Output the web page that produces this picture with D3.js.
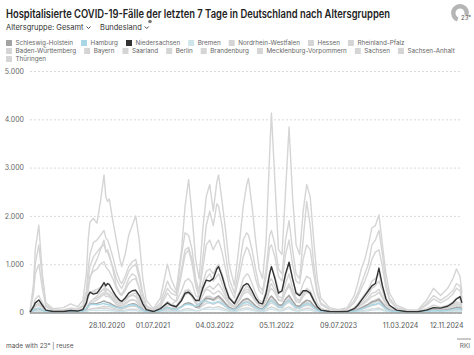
<!DOCTYPE html>
<html><head><meta charset="utf-8">
<script src="https://cdn.jsdelivr.net/npm/d3@7"></script>
<style>
html,body{margin:0;padding:0;background:#fff;}
svg{display:block;font-family:Inter,"Noto Sans",sans-serif;}
</style></head><body><svg id="c" width="474" height="355"></svg>
<script>
const title = "Hospitalisierte COVID-19-Fälle der letzten 7 Tage in Deutschland nach Altersgruppen";
const dates = ["2020-03-02","2020-03-16","2020-03-23","2020-04-06","2020-04-20","2020-05-04","2020-06-01","2020-07-13","2020-08-10","2020-09-07",
"2020-09-28","2020-10-12","2020-10-19","2020-10-26","2020-11-09","2020-11-23","2020-12-07","2020-12-21","2020-12-28","2021-01-04",
"2021-01-11","2021-01-25","2021-02-08","2021-02-22","2021-03-01","2021-03-15","2021-03-29","2021-04-12","2021-04-26","2021-05-10",
"2021-05-24","2021-06-07","2021-07-05","2021-08-02","2021-08-30","2021-09-13","2021-10-04","2021-10-25","2021-11-08","2021-11-22",
"2021-12-06","2021-12-20","2022-01-03","2022-01-17","2022-01-31","2022-02-14","2022-02-28","2022-03-14","2022-03-21","2022-04-04",
"2022-04-18","2022-05-02","2022-05-23","2022-06-13","2022-06-27","2022-07-11","2022-07-18","2022-08-01","2022-08-15","2022-08-29",
"2022-09-12","2022-09-26","2022-10-10","2022-10-17","2022-10-31","2022-11-14","2022-11-28","2022-12-12","2022-12-26","2023-01-09",
"2023-01-23","2023-02-06","2023-02-20","2023-03-06","2023-03-20","2023-04-03","2023-04-17","2023-05-01","2023-06-05","2023-07-10",
"2023-08-14","2023-09-11","2023-09-25","2023-10-09","2023-10-23","2023-11-06","2023-11-20","2023-12-04","2023-12-18","2024-01-01",
"2024-01-15","2024-01-29","2024-02-26","2024-04-08","2024-05-20","2024-06-24","2024-07-22","2024-08-19","2024-09-16","2024-10-07",
"2024-10-21","2024-11-04","2024-11-12"];

const states = ["Schleswig-Holstein","Hamburg","Niedersachsen","Bremen","Nordrhein-Westfalen","Hessen","Rheinland-Pfalz","Baden-Württemberg","Bayern","Saarland","Berlin","Brandenburg","Mecklenburg-Vorpommern","Sachsen","Sachsen-Anhalt","Thüringen"];

const schleswigHolstein = [2,40,70,90,50,15,6,8,15,12,25,70,130,170,180,190,210,240,220,210,200,160,120,100,95,120,160,180,170,120,60,20,8,40,110,80,60,120,180,200,170,110,120,230,300,290,260,320,340,270,180,110,60,180,260,290,280,210,140,90,80,160,300,340,260,160,150,280,350,240,140,130,200,250,230,140,70,30,10,7,10,35,60,95,130,170,220,240,270,190,100,50,18,7,6,30,55,45,60,85,110,105,60];
const hamburg = [2,40,70,90,50,15,6,8,15,12,30,80,130,160,170,160,170,190,170,170,160,130,100,90,90,120,150,160,150,100,50,18,8,40,100,80,60,110,160,170,150,130,180,240,230,210,190,220,230,190,130,80,50,130,190,210,200,150,100,70,60,120,220,240,190,120,110,200,250,170,100,95,150,180,170,100,50,22,8,5,8,25,45,70,95,125,160,170,200,140,75,38,14,5,5,22,40,32,45,60,80,78,45];
const niedersachsen = [5,120,200,260,150,50,20,20,40,30,60,200,350,420,380,400,500,620,550,600,580,450,330,250,230,300,400,450,460,350,180,60,20,80,200,150,120,250,400,420,350,250,250,500,670,650,700,900,950,750,500,300,180,400,550,600,580,450,300,200,180,400,800,950,700,400,450,800,1040,700,400,350,450,450,400,250,120,50,20,15,20,80,150,250,350,450,550,600,920,550,280,150,50,15,15,50,100,90,130,200,280,330,200];
const bremen = [0,10,18,22,12,4,2,2,4,3,8,20,35,45,45,42,45,50,45,45,42,35,26,22,22,30,38,40,38,26,13,5,2,10,28,22,16,30,42,45,40,35,45,65,70,65,60,70,72,58,40,24,14,38,55,62,60,45,30,20,18,35,65,72,56,35,33,60,75,52,30,28,45,55,50,30,15,7,2,2,2,8,14,21,28,37,48,52,60,42,22,11,4,2,1,7,12,10,13,18,24,23,13];
const nordrheinWestfalen = [20,600,1300,1810,800,200,80,100,180,120,250,800,1500,1870,1950,1850,2300,2850,2400,2300,2350,1900,1500,1100,950,1200,1600,1800,2000,1500,700,250,80,300,1000,700,450,1300,2200,2750,2000,1100,700,1700,2400,2650,2100,2700,2850,2300,1700,1000,550,1500,2200,2650,2780,2200,1500,900,700,1500,3300,4130,2700,1300,1200,2500,3840,2400,1400,1200,2100,2650,2400,1500,700,300,100,60,100,350,600,900,1100,1400,1750,1800,2020,1400,800,400,150,60,50,250,500,350,500,700,900,750,400];
const hessen = [5,150,280,350,200,60,25,30,50,40,80,280,550,750,850,900,1000,1050,950,900,850,700,500,380,350,450,600,680,700,500,250,80,25,120,400,300,220,450,650,700,600,350,300,600,850,900,800,950,1000,800,550,330,200,450,700,800,780,600,400,250,220,450,850,950,750,450,420,750,1000,700,420,380,600,750,700,420,200,90,30,20,30,100,180,280,380,480,650,700,800,550,300,150,50,20,18,80,150,110,150,220,300,280,160];
const rheinlandPfalz = [3,80,150,200,110,35,15,15,30,25,50,150,300,400,450,480,520,550,500,480,450,380,280,220,200,260,340,380,400,280,140,45,15,70,230,170,130,280,400,430,350,200,170,350,500,550,480,560,600,480,330,200,110,280,420,480,470,360,240,150,130,270,520,600,450,270,250,450,600,420,250,230,380,480,430,260,120,55,18,12,18,60,110,170,230,300,400,420,480,330,180,90,30,12,10,50,90,70,95,130,180,170,100];
const badenWuerttemberg = [10,400,800,1000,500,120,40,50,80,70,120,350,700,950,1150,1250,1350,1400,1300,1250,1150,950,700,550,500,650,850,950,1000,700,350,120,40,150,500,400,350,900,1300,1350,1100,600,400,900,1400,1500,1300,1450,1500,1250,900,550,300,800,1150,1350,1300,1050,700,450,380,750,1350,1400,1150,750,650,1200,1500,1000,650,600,1100,1400,1300,800,380,170,60,35,60,200,330,500,650,850,1100,1250,1300,950,500,250,90,35,30,150,280,200,280,380,500,450,250];
const bayern = [15,500,1000,1400,700,150,50,60,90,80,150,450,900,1200,1450,1500,1600,1700,1550,1500,1400,1150,850,650,600,750,950,1050,1100,800,400,150,50,200,650,500,400,1200,1650,1600,1300,700,450,1100,1800,2100,1800,2250,2200,1800,1200,700,400,1000,1500,1650,1600,1300,900,550,450,900,1600,1700,1400,900,800,1500,1900,1300,800,700,1500,2300,1800,1000,450,200,70,40,70,250,400,600,800,1000,1400,1500,1700,1200,600,300,100,40,35,180,350,250,350,450,600,550,300];
const saarland = [1,20,40,50,28,8,3,3,5,4,8,30,55,70,75,80,85,90,85,80,75,65,50,40,38,50,65,70,65,45,22,8,3,12,40,30,25,50,75,80,65,40,35,70,100,110,95,115,120,95,65,40,22,55,85,95,92,70,48,30,26,55,100,115,90,55,50,90,115,80,48,45,70,90,82,50,24,11,4,3,4,12,22,32,44,57,75,80,92,64,34,17,6,2,2,10,18,14,19,26,35,33,19];
const berlin = [3,70,130,170,90,30,15,15,35,30,70,200,330,420,430,420,440,480,420,400,380,300,220,180,180,250,330,360,340,220,100,35,15,70,200,170,130,260,380,400,340,250,300,450,480,450,380,430,450,380,270,170,100,250,380,430,420,330,220,140,120,240,450,500,400,250,230,420,550,380,220,200,330,420,380,230,110,50,18,12,18,55,100,150,200,260,330,360,420,300,160,80,28,12,10,45,80,60,85,120,160,150,90];
const brandenburg = [2,30,55,70,40,12,5,5,10,8,20,70,150,220,270,300,350,420,380,380,350,270,180,140,140,190,250,270,250,170,70,20,6,25,90,90,110,300,420,450,370,220,150,250,330,340,290,330,350,280,190,110,60,150,230,270,260,200,130,85,75,160,300,330,260,160,150,280,360,240,140,130,210,260,240,150,70,30,10,7,10,35,65,100,140,180,230,260,300,210,110,55,20,7,6,30,55,45,60,85,110,105,60];
const mecklenburgVorpommern = [1,15,25,30,18,5,2,3,5,4,8,25,50,70,85,95,110,130,120,125,120,95,70,60,65,90,120,135,125,80,35,10,3,15,50,45,50,130,190,210,180,110,80,140,190,200,170,200,210,170,115,65,35,95,145,165,160,120,80,50,45,95,180,200,160,95,90,165,215,145,85,75,120,150,140,85,40,18,6,4,6,20,40,60,85,110,145,160,185,130,65,32,12,4,4,18,32,27,36,50,68,65,36];
const sachsen = [3,60,120,150,90,25,10,12,20,15,40,200,450,700,950,1100,1300,1500,1250,1300,1200,900,550,400,380,500,700,800,750,500,200,50,10,40,150,150,250,800,1200,1300,1000,550,300,450,700,800,650,750,800,600,400,220,120,300,450,550,520,400,280,170,150,350,650,700,550,330,300,600,800,500,300,250,400,500,450,280,130,60,20,12,20,60,120,200,280,380,500,550,650,450,220,110,40,12,12,50,100,80,110,160,220,210,120];
const sachsenAnhalt = [1,25,45,60,35,10,4,5,8,7,15,50,110,170,220,260,320,380,330,340,320,250,170,130,130,170,230,260,240,160,65,18,5,20,70,70,90,250,370,400,320,180,110,180,260,280,240,280,300,230,160,90,50,130,200,230,220,170,110,70,60,130,250,280,220,130,120,230,300,200,115,105,170,210,190,120,55,25,8,6,8,28,55,85,120,155,200,220,260,180,90,45,16,6,5,25,45,38,50,70,95,90,50];
const thueringen = [1,25,50,65,40,12,5,5,8,7,15,55,130,200,280,340,420,500,450,470,450,350,230,180,180,240,320,360,330,220,90,25,6,20,70,70,100,300,450,480,380,210,120,190,270,290,250,290,310,240,160,90,50,120,190,220,210,160,105,65,55,120,230,260,200,120,110,210,280,190,110,100,160,200,180,115,50,22,8,5,7,25,50,80,110,145,190,210,240,170,85,42,15,5,5,22,42,35,47,65,88,84,46];

const seriesValues = [schleswigHolstein,hamburg,niedersachsen,bremen,nordrheinWestfalen,hessen,rheinlandPfalz,badenWuerttemberg,bayern,saarland,berlin,brandenburg,mecklenburgVorpommern,sachsen,sachsenAnhalt,thueringen];
const yTicks = [0,1000,2000,3000,4000,5000];
const xTicks = ["2020-10-28","2021-07-01","2022-03-04","2022-11-05","2023-07-09","2024-03-11","2024-11-12"];

const colorOf = {"Schleswig-Holstein":"#a3a3a3","Hamburg":"#a9d7e6","Niedersachsen":"#333333","Bremen":"#cfe5ec"};
const greyC = "#d5d5d5";
const col = s => colorOf[s] || greyC;

const parse = d3.utcParse("%Y-%m-%d");
const dts = dates.map(parse);
const svg = d3.select("#c");
const locale = d3.formatLocale({decimal:",",thousands:".",grouping:[3],currency:["","€"]});
const fmt = locale.format(",");

// Title (horizontally condensed to the reference width)
{
  const tg = svg.append("g");
  const t = tg.append("text").attr("x",0).attr("y",0).attr("font-size",11.2).attr("font-weight",600).attr("fill","#222").text(title);
  const w = t.node().getComputedTextLength();
  tg.attr("transform",`translate(6,18) scale(${384/w},1)`);
}

// dropdowns
function dropdown(x, label){
  const tx = svg.append("text").attr("x",x).attr("y",30).attr("font-size",7.5).attr("fill","#333").text(label);
  const w = tx.node().getComputedTextLength();
  svg.append("path").attr("d",`M${x+w+3},${26.5} l2,2 l2,-2`).attr("fill","none").attr("stroke","#333").attr("stroke-width",0.9);
}
dropdown(6,"Altersgruppe: Gesamt");
dropdown(100,"Bundesland");
svg.append("circle").attr("cx",150).attr("cy",21.5).attr("r",1.8).attr("fill","#777");

// logo
svg.append("path").attr("d", d3.arc()({innerRadius:4.5,outerRadius:9,startAngle:-2.8,endAngle:1.9})).attr("transform","translate(460,13)").attr("fill","#b5b5b5");
svg.append("text").attr("x",461).attr("y",20).attr("font-size",6).attr("fill","#555").text("23°");

// legend
{
  let lx = 6, row = 0; const rowY = [43,51,59], maxX = 466;
  const g = svg.append("g");
  states.forEach(s => {
    const tmp = g.append("text").attr("font-size",6.3).text(s);
    const w = tmp.node().getComputedTextLength(); tmp.remove();
    if (lx + 9.5 + w > maxX) { row++; lx = 6; }
    const cy = rowY[row];
    g.append("rect").attr("x",lx).attr("y",cy-3).attr("width",6).attr("height",6).attr("fill",col(s));
    g.append("text").attr("x",lx+9.5).attr("y",cy+2.3).attr("font-size",6.3).attr("fill","#666").text(s);
    lx += 9.5 + w + 8;
  });
}

// scales
const x = d3.scaleUtc().domain([parse("2020-03-02"), parse("2024-11-12")]).range([30,462]);
const y = d3.scaleLinear().domain([0,5000]).range([312.5,71]);

// y grid/axis
const ya = svg.append("g").attr("transform","translate(30,0)")
  .call(d3.axisLeft(y).tickValues(yTicks).tickSize(-432).tickPadding(6).tickFormat(fmt));
ya.select(".domain").remove();
ya.selectAll(".tick line").attr("stroke","#cfcfcf").attr("stroke-dasharray","2,2").attr("stroke-width",0.8);
ya.selectAll(".tick text").attr("font-size",7).attr("fill","#666").attr("font-family","Inter, sans-serif");

// lines
const line = d3.line().x((d,i)=>x(dts[i])).y(d=>y(d));
const rank = s => ({"Schleswig-Holstein":1,"Bremen":2,"Hamburg":3,"Niedersachsen":4}[s]||0);
const order = states.map((s,i)=>i).sort((a,b)=>rank(states[a]) - rank(states[b]));
svg.append("g").selectAll("path").data(order).join("path")
  .attr("d", i => line(seriesValues[i]))
  .attr("fill","none")
  .attr("stroke", i => col(states[i]))
  .attr("stroke-width", 1.4)
  .attr("stroke-linejoin","round");

// baseline
svg.append("line").attr("x1",30).attr("x2",462).attr("y1",y(0)+0.5).attr("y2",y(0)+0.5).attr("stroke","#9a9a9a").attr("stroke-width",1.6);

// x axis
const xa = svg.append("g").attr("transform",`translate(0,${y(0)})`)
  .call(d3.axisBottom(x).tickValues(xTicks.map(parse)).tickSize(0).tickPadding(11).tickFormat(d3.utcFormat("%d.%m.%Y")));
xa.select(".domain").remove();
xa.selectAll(".tick text").attr("font-size",7).attr("fill","#555").attr("font-family","Inter, sans-serif");
xa.selectAll(".tick text").filter((d,i)=>i===0).attr("dx",16);
xa.selectAll(".tick text").filter((d,i)=>i===xTicks.length-1).attr("text-anchor","end").attr("dx",1);

// footer
svg.append("text").attr("x",6).attr("y",348).attr("font-size",6.5).attr("fill","#555").text("made with 23° | reuse");
svg.append("line").attr("x1",457).attr("x2",471).attr("y1",339).attr("y2",339).attr("stroke","#777").attr("stroke-width",0.8);
svg.append("text").attr("x",470).attr("y",348).attr("text-anchor","end").attr("font-size",6.5).attr("fill","#666").text("RKI");
</script></body></html>
